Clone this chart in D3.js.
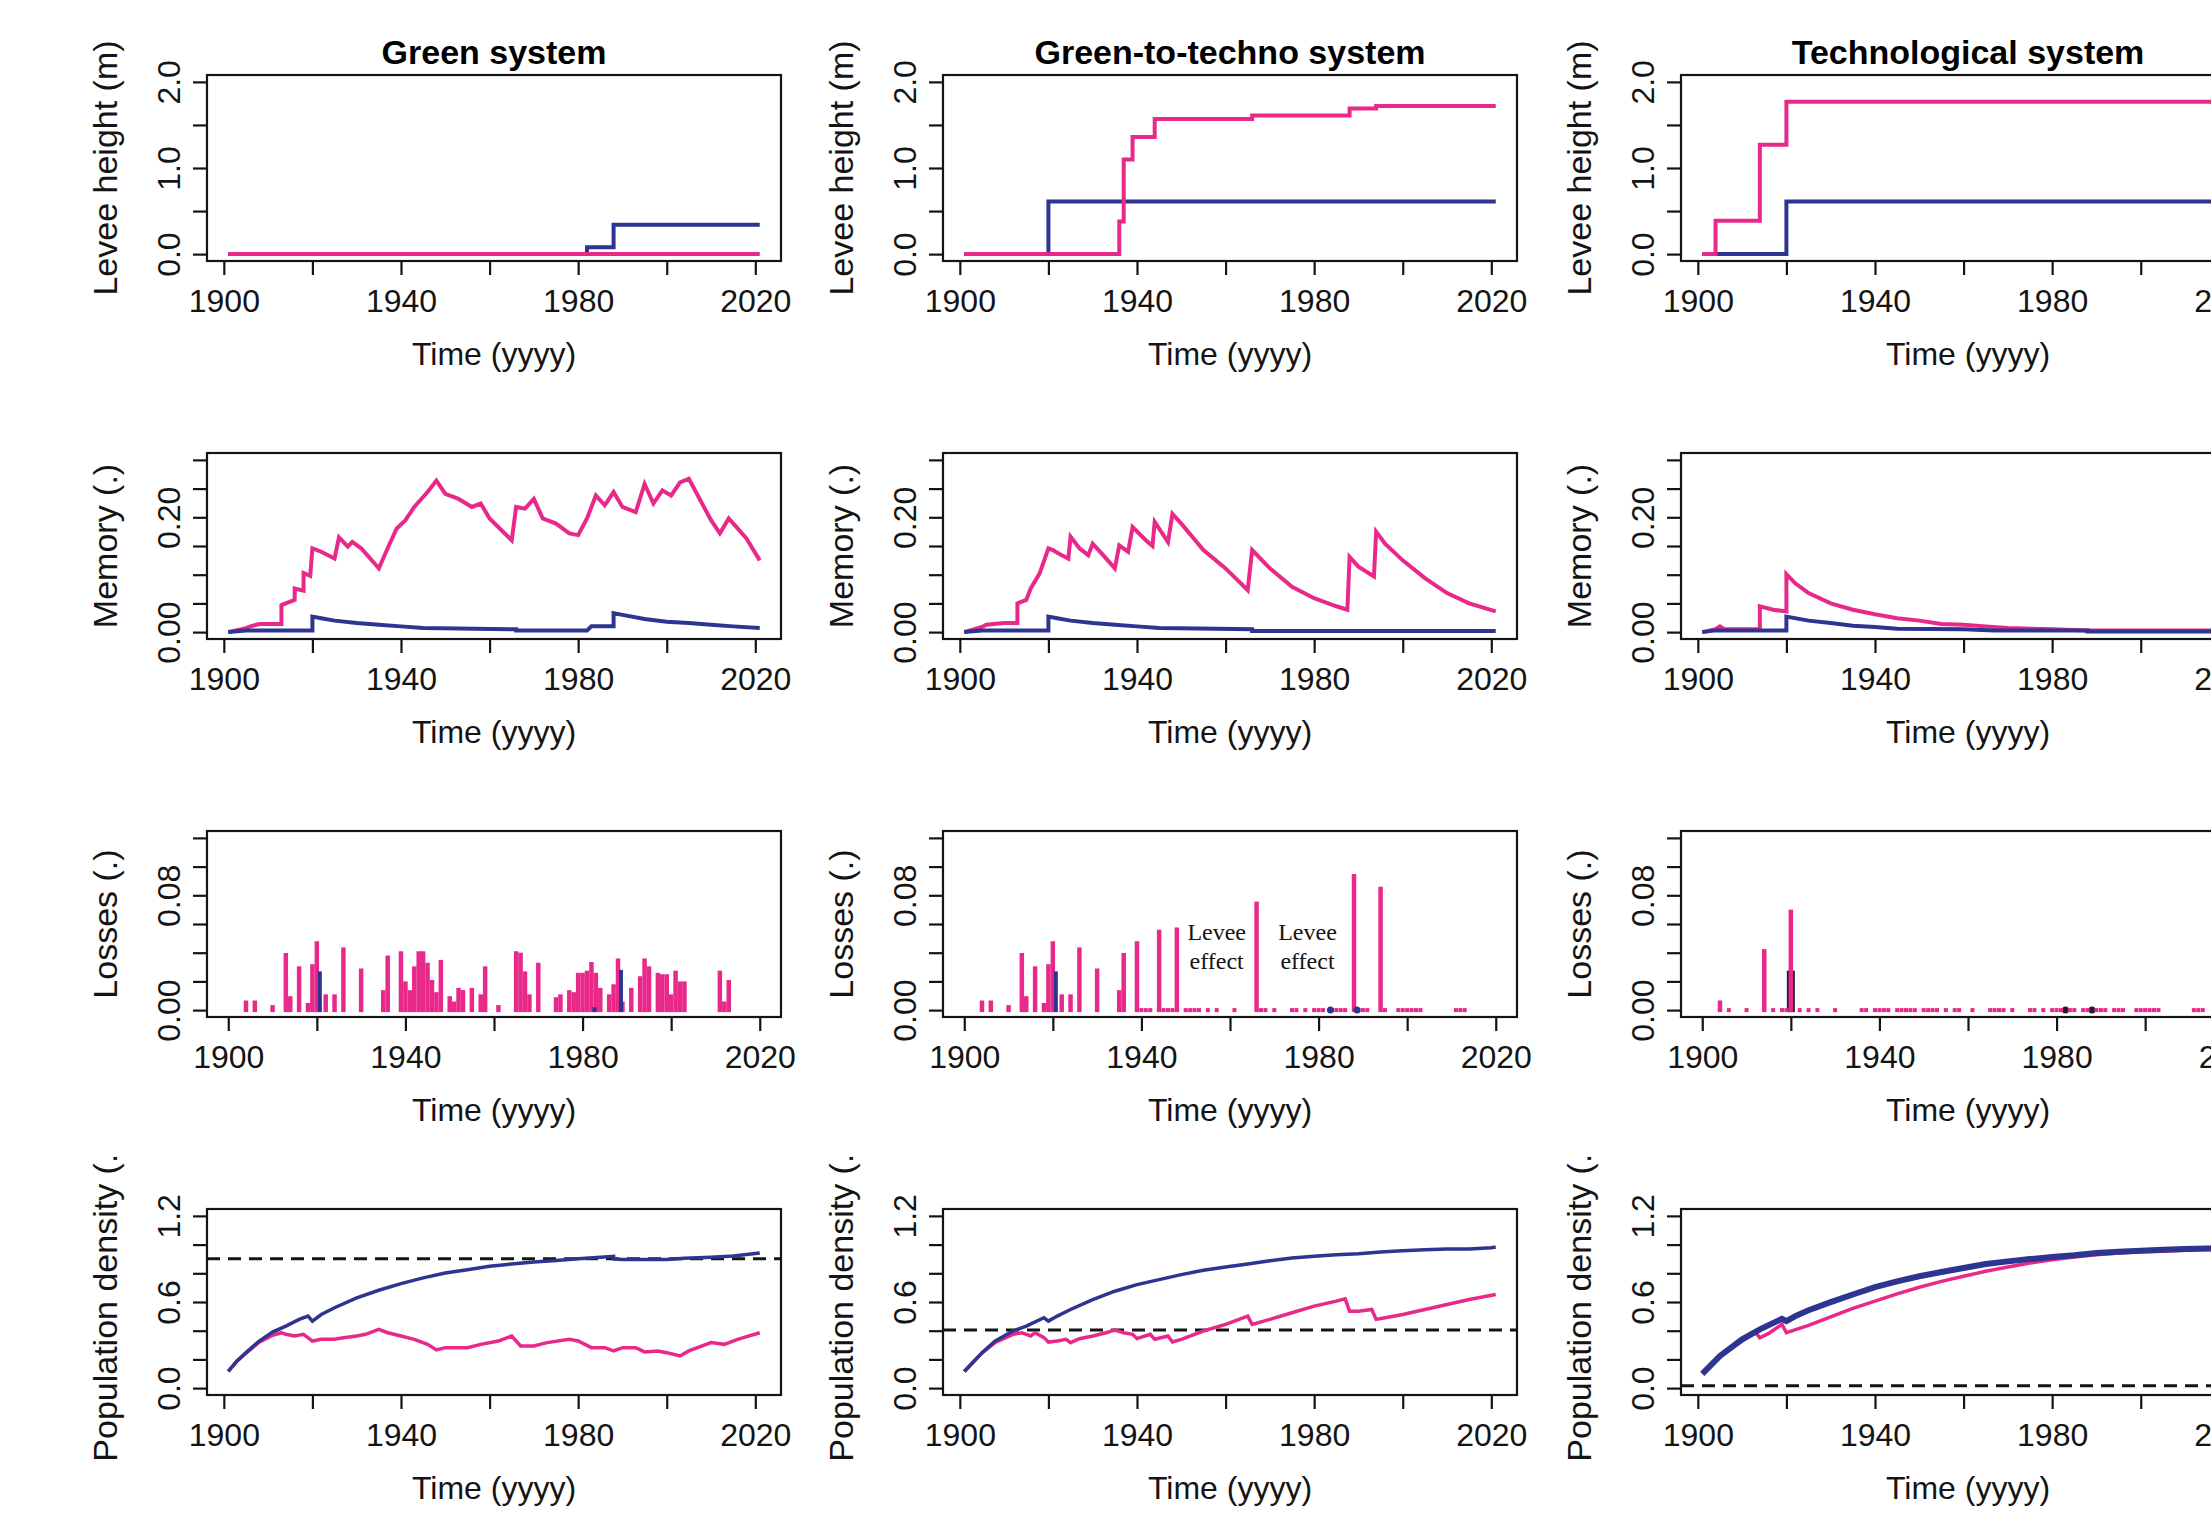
<!DOCTYPE html>
<html>
<head>
<meta charset="utf-8">
<script src="https://cdn.jsdelivr.net/npm/d3@7"></script>
<style>
  body { margin: 0; background: #fff; overflow: hidden; }
</style>
</head>
<body>
<div id="chart"></div>
<script>
// Levee / memory / losses / population panels for three flood-management systems

const systems = ["Green system", "Green-to-techno system", "Technological system"];

const xTickVals = [1900, 1920, 1940, 1960, 1980, 2000, 2020];
const xTickLabels = [1900, 1940, 1980, 2020];

// levee height (m), step changes [year, value]
const leveeBlue = [
  [[1901, 0], [1982, 0.08], [1988, 0.34], [2021, 0.34]],
  [[1901, 0], [1920, 0.61], [2021, 0.61]],
  [[1901, 0], [1920, 0.61], [2021, 0.61]]
];
const leveePink = [
  [[1901, 0], [2021, 0]],
  [[1901, 0], [1936, 0.38], [1937, 1.10], [1939, 1.36], [1944, 1.57], [1966, 1.61], [1988, 1.69], [1994, 1.72], [2021, 1.72]],
  [[1901, 0], [1904, 0.386], [1914, 1.27], [1920, 1.77], [2021, 1.77]]
];

// memory (.)
const memoryBlue = [
  [[1901, 0], [1905, 0.003], [1920, 0.003], [1920, 0.027], [1922, 0.024], [1925, 0.020], [1930, 0.016], [1935, 0.013],
   [1940, 0.010], [1945, 0.007], [1966, 0.005], [1966, 0.003], [1982, 0.003], [1983, 0.010], [1988, 0.010], [1988, 0.033],
   [1990, 0.030], [1995, 0.023], [2000, 0.018], [2005, 0.016], [2010, 0.013], [2015, 0.010], [2021, 0.007]],
  [[1901, 0], [1905, 0.003], [1920, 0.003], [1920, 0.027], [1922, 0.024], [1925, 0.020], [1930, 0.016], [1935, 0.013],
   [1940, 0.010], [1945, 0.007], [1966, 0.005], [1966, 0.002], [2021, 0.002]],
  [[1901, 0], [1904, 0.003], [1920, 0.003], [1920, 0.027], [1925, 0.020], [1930, 0.016], [1935, 0.011], [1940, 0.009],
   [1945, 0.006], [1960, 0.005], [1967, 0.003], [1988, 0.003], [1988, 0.001], [2021, 0.001]]
];
const memoryPink = [
  [[1901, 0], [1905, 0.007], [1906, 0.010], [1908, 0.014], [1913, 0.014], [1913, 0.047], [1916, 0.056], [1916, 0.076],
   [1918, 0.072], [1918, 0.103], [1919.5, 0.098], [1920, 0.146], [1922, 0.140], [1925, 0.128], [1926, 0.165], [1928, 0.149],
   [1929, 0.157], [1931, 0.146], [1935, 0.111], [1937, 0.146], [1939, 0.180], [1941, 0.195], [1943, 0.218], [1946, 0.244],
   [1948, 0.264], [1950, 0.241], [1953, 0.232], [1956, 0.218], [1958, 0.224], [1960, 0.198], [1965, 0.160], [1966, 0.218],
   [1968, 0.215], [1970, 0.232], [1972, 0.198], [1975, 0.189], [1978, 0.172], [1980, 0.169], [1982, 0.198], [1984, 0.238],
   [1986, 0.221], [1988, 0.244], [1990, 0.218], [1993, 0.209], [1995, 0.258], [1997, 0.224], [1999, 0.247], [2001, 0.238],
   [2003, 0.261], [2005, 0.267], [2010, 0.195], [2012, 0.172], [2014, 0.198], [2018, 0.163], [2021, 0.125]],
  [[1901, 0], [1905, 0.009], [1906, 0.013], [1910, 0.016], [1913, 0.016], [1913, 0.050], [1915, 0.056], [1916, 0.076],
   [1918, 0.102], [1920, 0.146], [1921, 0.143], [1923, 0.134], [1924.5, 0.128], [1925, 0.166], [1927, 0.146], [1929, 0.134],
   [1930, 0.154], [1932, 0.137], [1935, 0.111], [1936, 0.151], [1938, 0.140], [1939, 0.183], [1942, 0.160], [1943.5, 0.150],
   [1944, 0.192], [1947, 0.157], [1948, 0.206], [1950, 0.189], [1955, 0.143], [1960, 0.111], [1965, 0.073], [1966, 0.143],
   [1970, 0.111], [1975, 0.079], [1980, 0.059], [1985, 0.045], [1987.5, 0.039], [1988, 0.131], [1990, 0.114], [1993.5, 0.097],
   [1994, 0.175], [1996, 0.154], [2000, 0.125], [2005, 0.094], [2010, 0.068], [2015, 0.050], [2021, 0.036]],
  [[1901, 0], [1904, 0.005], [1905, 0.010], [1906, 0.005], [1914, 0.005], [1914, 0.045], [1917, 0.039], [1920, 0.036],
   [1920, 0.101], [1922, 0.085], [1925, 0.068], [1930, 0.050], [1935, 0.039], [1940, 0.031], [1945, 0.024], [1950, 0.020],
   [1955, 0.014], [1960, 0.013], [1965, 0.010], [1970, 0.007], [1980, 0.005], [1988, 0.003], [2021, 0.003]]
];

// losses (.) as [year, value]; a zero value is an event with no loss
const lossPink = [
  [[1904, 0.0067], [1906, 0.0067], [1910, 0.0035], [1913, 0.0398], [1914, 0.0097], [1916, 0.0305], [1918, 0.005],
   [1919, 0.032], [1920, 0.048], [1922, 0.011], [1924, 0.011], [1926, 0.0437], [1930, 0.029], [1935, 0.0139],
   [1936, 0.038], [1939, 0.041], [1940, 0.020], [1941, 0.0139], [1942, 0.0305], [1943, 0.041], [1944, 0.041],
   [1945, 0.033], [1946, 0.021], [1947, 0.0125], [1948, 0.035], [1950, 0.0097], [1951, 0.006], [1952, 0.0155],
   [1953, 0.014], [1955, 0.0155], [1957, 0.011], [1958, 0.0305], [1961, 0.0035], [1965, 0.041], [1966, 0.040],
   [1967, 0.027], [1968, 0.011], [1970, 0.033], [1974, 0.009], [1975, 0.011], [1977, 0.0139], [1978, 0.0125],
   [1979, 0.026], [1980, 0.026], [1981, 0.0275], [1982, 0.0335], [1983, 0.026], [1984, 0.0155], [1986, 0.011],
   [1987, 0.018], [1988, 0.036], [1989, 0.006], [1991, 0.0155], [1993, 0.0236], [1994, 0.036], [1995, 0.0305],
   [1997, 0.026], [1998, 0.025], [1999, 0.025], [2000, 0.011], [2001, 0.0275], [2002, 0.020], [2003, 0.020],
   [2011, 0.0275], [2012, 0.006], [2013, 0.021]],
  [[1904, 0.0067], [1906, 0.0067], [1910, 0.0035], [1913, 0.0398], [1914, 0.0097], [1916, 0.0305], [1918, 0.005],
   [1919, 0.032], [1920, 0.048], [1922, 0.011], [1924, 0.011], [1926, 0.0437], [1930, 0.029], [1935, 0.0139],
   [1936, 0.0398], [1939, 0.048], [1940, 0], [1941, 0], [1942, 0], [1944, 0.056], [1945, 0], [1946, 0], [1947, 0],
   [1948, 0.0576], [1950, 0], [1951, 0], [1952, 0], [1953, 0], [1955, 0], [1957, 0], [1961, 0], [1966, 0.0756],
   [1967, 0], [1968, 0], [1970, 0], [1974, 0], [1975, 0], [1977, 0], [1979, 0], [1980, 0], [1981, 0], [1983, 0],
   [1984, 0], [1985, 0], [1986, 0], [1988, 0.0948], [1989, 0], [1990, 0], [1991, 0], [1994, 0.086], [1995, 0],
   [1998, 0], [1999, 0], [2000, 0], [2001, 0], [2002, 0], [2003, 0], [2011, 0], [2012, 0], [2013, 0]],
  [[1904, 0.0067], [1906, 0], [1910, 0], [1914, 0.0425], [1916, 0], [1918, 0], [1919, 0], [1920, 0.070], [1922, 0],
   [1924, 0], [1926, 0], [1930, 0], [1936, 0], [1937, 0], [1939, 0], [1940, 0], [1941, 0], [1942, 0], [1944, 0],
   [1945, 0], [1946, 0], [1947, 0], [1948, 0], [1950, 0], [1951, 0], [1952, 0], [1953, 0], [1955, 0], [1957, 0],
   [1958, 0], [1961, 0], [1965, 0], [1966, 0], [1967, 0], [1968, 0], [1970, 0], [1974, 0], [1975, 0], [1977, 0],
   [1979, 0], [1980, 0], [1981, 0], [1983, 0], [1984, 0], [1986, 0], [1987, 0], [1989, 0], [1990, 0], [1991, 0],
   [1993, 0], [1994, 0], [1995, 0], [1998, 0], [1999, 0], [2000, 0], [2001, 0], [2002, 0], [2003, 0], [2011, 0],
   [2012, 0], [2013, 0]]
];
const lossBlue = [
  [[1920, 0.027], [1982, 0.002], [1988, 0.028]],
  [[1920, 0.027], [1982, 0], [1988, 0]],
  [[1920, 0.0275], [1982, 0], [1988, 0]]
];

// population density (.)
const popBlue = [
  [[1901, 0.116], [1903, 0.19], [1905, 0.247], [1908, 0.328], [1911, 0.39], [1914, 0.432], [1917, 0.479], [1919, 0.502],
   [1920, 0.467], [1922, 0.513], [1925, 0.56], [1930, 0.629], [1935, 0.682], [1940, 0.728], [1945, 0.768], [1950, 0.802],
   [1955, 0.825], [1960, 0.849], [1965, 0.865], [1970, 0.879], [1975, 0.89], [1980, 0.902], [1985, 0.911], [1988, 0.918],
   [1988, 0.9], [1990, 0.897], [1995, 0.897], [2000, 0.897], [2004, 0.904], [2010, 0.911], [2015, 0.92], [2021, 0.941]],
  [[1901, 0.116], [1905, 0.247], [1908, 0.328], [1912, 0.398], [1915, 0.432], [1919, 0.49], [1920, 0.467], [1922, 0.502],
   [1925, 0.548], [1930, 0.617], [1935, 0.675], [1940, 0.721], [1945, 0.756], [1950, 0.791], [1955, 0.821], [1960, 0.844],
   [1965, 0.865], [1970, 0.888], [1975, 0.906], [1980, 0.918], [1985, 0.929], [1990, 0.936], [1995, 0.948], [2000, 0.957],
   [2005, 0.964], [2010, 0.969], [2015, 0.969], [2020, 0.978], [2021, 0.983]],
  [[1901, 0.10], [1905, 0.224], [1910, 0.34], [1914, 0.409], [1919, 0.483], [1920, 0.467], [1922, 0.502], [1925, 0.543],
   [1930, 0.599], [1935, 0.652], [1940, 0.703], [1945, 0.744], [1950, 0.779], [1955, 0.809], [1960, 0.837], [1965, 0.865],
   [1970, 0.883], [1975, 0.899], [1980, 0.913], [1985, 0.925], [1990, 0.941], [1995, 0.95], [2000, 0.957], [2005, 0.964],
   [2010, 0.969], [2015, 0.972], [2021, 0.976]]
];
const popPink = [
  [[1901, 0.116], [1903, 0.19], [1905, 0.243], [1908, 0.32], [1911, 0.368], [1913, 0.386], [1914, 0.375], [1916, 0.363],
   [1918, 0.375], [1920, 0.328], [1922, 0.34], [1925, 0.34], [1927, 0.351], [1930, 0.363], [1932, 0.375], [1935, 0.409],
   [1937, 0.386], [1940, 0.363], [1943, 0.34], [1946, 0.305], [1948, 0.266], [1950, 0.282], [1955, 0.282], [1958, 0.305],
   [1962, 0.328], [1965, 0.363], [1967, 0.294], [1970, 0.294], [1973, 0.317], [1978, 0.34], [1980, 0.328], [1983, 0.282],
   [1986, 0.282], [1988, 0.259], [1990, 0.282], [1993, 0.282], [1995, 0.252], [1998, 0.259], [2000, 0.247], [2003, 0.224],
   [2005, 0.259], [2008, 0.294], [2010, 0.317], [2013, 0.305], [2016, 0.34], [2021, 0.386]],
  [[1901, 0.116], [1905, 0.243], [1908, 0.318], [1912, 0.375], [1914, 0.386], [1916, 0.363], [1917, 0.386], [1919, 0.352],
   [1920, 0.321], [1922, 0.328], [1924, 0.34], [1925, 0.317], [1927, 0.344], [1930, 0.363], [1933, 0.386], [1935, 0.405],
   [1937, 0.386], [1939, 0.375], [1940, 0.345], [1943, 0.375], [1944, 0.34], [1947, 0.363], [1948, 0.321], [1950, 0.34],
   [1955, 0.398], [1960, 0.444], [1965, 0.502], [1966, 0.444], [1970, 0.479], [1975, 0.525], [1980, 0.571], [1985, 0.606],
   [1987, 0.622], [1988, 0.536], [1990, 0.536], [1993, 0.548], [1994, 0.479], [1996, 0.49], [2000, 0.513], [2005, 0.548],
   [2010, 0.583], [2015, 0.617], [2021, 0.652]],
  [[1901, 0.10], [1905, 0.22], [1910, 0.33], [1913, 0.39], [1914, 0.351], [1916, 0.381], [1919, 0.444], [1920, 0.386],
   [1925, 0.437], [1930, 0.497], [1935, 0.555], [1940, 0.606], [1945, 0.657], [1950, 0.703], [1955, 0.744], [1960, 0.779],
   [1965, 0.814], [1970, 0.844], [1975, 0.872], [1980, 0.895], [1985, 0.913], [1990, 0.929], [1995, 0.941], [2000, 0.95],
   [2005, 0.953], [2010, 0.96], [2015, 0.965], [2021, 0.97]]
];
const popThreshold = [0.902, 0.405, 0.016];

const annotationYears = [1957, 1977.5];
const annotationValue = 0.0425;
const annotationLines = ["Levee", "effect"];

// ---- drawing ----
const PINK = "#E8298A";
const BLUE = "#2D3590";
const INK = "#141414";
const fontSans = '"Liberation Sans", Arial, sans-serif';
const fontSerif = '"Liberation Serif", "Times New Roman", serif';

const width = 2211, height = 1513;
const colLeft = [207, 943, 1681];
const rowTop = [75, 453, 831, 1209];
const boxW = 574, boxH = 186;

const rowSpecs = [
  { yTitle: "Levee height (m)", yDomain: [-0.08, 2.08], xDomain: [1896.2, 2025.8],
    yTicks: [0, 0.5, 1, 1.5, 2], yLabels: ["0.0", "", "1.0", "", "2.0"] },
  { yTitle: "Memory (.)", yDomain: [-0.012, 0.312], xDomain: [1896.2, 2025.8],
    yTicks: [0, 0.05, 0.1, 0.15, 0.2, 0.25, 0.3], yLabels: ["0.00", "", "", "", "0.20", "", ""] },
  { yTitle: "Losses (.)", yDomain: [-0.0048, 0.1248], xDomain: [1895.2, 2024.8],
    yTicks: [0, 0.02, 0.04, 0.06, 0.08, 0.1, 0.12], yLabels: ["0.00", "", "", "", "0.08", "", ""] },
  { yTitle: "Population density (.)", yDomain: [-0.048, 1.248], xDomain: [1896.2, 2025.8],
    yTicks: [0, 0.2, 0.4, 0.6, 0.8, 1.0, 1.2], yLabels: ["0.0", "", "", "0.6", "", "", "1.2"] }
];

const svg = d3.select("#chart")
  .append("svg")
  .attr("width", width)
  .attr("height", height)
  .attr("viewBox", [0, 0, width, height]);

svg.append("rect").attr("width", width).attr("height", height).attr("fill", "#fff");

// the long population label is cut by its figure region, as in R
svg.append("defs").append("clipPath")
  .attr("id", "row4clip")
  .attr("clipPathUnits", "userSpaceOnUse")
  .append("rect")
  .attr("x", 0).attr("y", 1157).attr("width", width).attr("height", height - 1157);

function panel(row, col) {
  const spec = rowSpecs[row];
  const left = colLeft[col];
  const top = rowTop[row];

  const x = d3.scaleLinear().domain(spec.xDomain).range([left, left + boxW]);
  const y = d3.scaleLinear().domain(spec.yDomain).range([top + boxH, top]);

  const g = svg.append("g");

  // x axis
  g.append("g")
    .attr("transform", "translate(0," + (top + boxH) + ")")
    .call(d3.axisBottom(x)
      .tickValues(xTickVals)
      .tickSize(14)
      .tickPadding(14)
      .tickFormat(function(d) { return xTickLabels.includes(d) ? String(d) : ""; }))
    .call(function(a) { a.select(".domain").remove(); })
    .call(function(a) {
      a.selectAll("line").attr("stroke", INK).attr("stroke-width", 2.2);
      a.selectAll("text")
        .attr("fill", INK)
        .attr("font-size", 32)
        .attr("font-family", fontSans);
    });

  // y axis, labels parallel to the axis
  g.append("g")
    .attr("transform", "translate(" + left + ",0)")
    .call(d3.axisLeft(y)
      .tickValues(spec.yTicks)
      .tickSize(14)
      .tickFormat(function(d, i) { return spec.yLabels[i]; }))
    .call(function(a) { a.select(".domain").remove(); })
    .call(function(a) {
      a.selectAll("line").attr("stroke", INK).attr("stroke-width", 2.2);
      a.selectAll("text")
        .attr("x", null)
        .attr("dy", null)
        .attr("text-anchor", "middle")
        .attr("transform", "translate(-27,0) rotate(-90)")
        .attr("fill", INK)
        .attr("font-size", 32)
        .attr("font-family", fontSans);
    });

  // axis titles
  g.append("text")
    .attr("x", left + boxW / 2)
    .attr("y", top + boxH + 104)
    .attr("text-anchor", "middle")
    .attr("fill", INK)
    .attr("font-size", 32)
    .attr("font-family", fontSans)
    .text("Time (yyyy)");

  const ytHolder = g.append("g");
  if (row === 3) {
    ytHolder.attr("clip-path", "url(#row4clip)");
  }
  ytHolder.append("text")
    .attr("transform", "translate(" + (left - 90) + "," + (top + boxH / 2) + ") rotate(-90)")
    .attr("text-anchor", "middle")
    .attr("fill", INK)
    .attr("font-size", 34)
    .attr("font-family", fontSans)
    .text(spec.yTitle);

  if (row === 0) {
    g.append("text")
      .attr("x", left + boxW / 2)
      .attr("y", top - 11)
      .attr("text-anchor", "middle")
      .attr("fill", "#000")
      .attr("font-size", 34)
      .attr("font-weight", 700)
      .attr("font-family", fontSans)
      .text(systems[col]);
  }

  return { g: g, x: x, y: y, left: left, top: top };
}

function drawLine(p, data, color, curve, lw) {
  const line = d3.line()
    .x(function(d) { return p.x(d[0]); })
    .y(function(d) { return p.y(d[1]); })
    .curve(curve);
  p.g.append("path")
    .datum(data)
    .attr("fill", "none")
    .attr("stroke", color)
    .attr("stroke-width", lw)
    .attr("stroke-linejoin", "miter")
    .attr("d", line);
}

function drawBars(p, data, color, lw, dx, dot) {
  const bars = p.g.append("g");
  data.forEach(function(d) {
    const xp = p.x(d[0]) + dx;
    if (d[1] > 0) {
      bars.append("line")
        .attr("x1", xp).attr("x2", xp)
        .attr("y1", p.y(0) + 2).attr("y2", p.y(d[1]))
        .attr("stroke", color)
        .attr("stroke-width", lw);
    } else {
      bars.append("rect")
        .attr("x", xp - dot / 2).attr("y", p.y(0) - dot / 2)
        .attr("width", dot).attr("height", dot)
        .attr("rx", dot > 5 ? dot / 2 : 0)
        .attr("fill", color);
    }
  });
}

function drawBox(p) {
  p.g.append("rect")
    .attr("x", p.left).attr("y", p.top)
    .attr("width", boxW).attr("height", boxH)
    .attr("fill", "none")
    .attr("stroke", INK)
    .attr("stroke-width", 2.2);
}

const lossDark = [BLUE, BLUE, "#221a33"];
const lossDarkWidth = [4, 4, 8];
const popBlueWidth = [3.5, 3.5, 6];

for (let c = 0; c < 3; c++) {
  // levee
  let p = panel(0, c);
  drawLine(p, leveeBlue[c], BLUE, d3.curveStepAfter, 4);
  drawLine(p, leveePink[c], PINK, d3.curveStepAfter, 4);
  drawBox(p);

  // memory
  p = panel(1, c);
  drawLine(p, memoryPink[c], PINK, d3.curveLinear, 4);
  drawLine(p, memoryBlue[c], BLUE, d3.curveLinear, 4);
  drawBox(p);

  // losses
  p = panel(2, c);
  if (c === 2) {
    drawBars(p, lossBlue[c], lossDark[c], lossDarkWidth[c], 0, 7);
    drawBars(p, lossPink[c], PINK, 4.5, 0, 4);
  } else {
    drawBars(p, lossPink[c], PINK, 4.5, 0, 4);
    drawBars(p, lossBlue[c], lossDark[c], lossDarkWidth[c], 3, 7);
  }
  if (c === 1) {
    annotationYears.forEach(function(yr) {
      const t = p.g.append("text")
        .attr("x", p.x(yr))
        .attr("y", p.y(annotationValue) - 9)
        .attr("text-anchor", "middle")
        .attr("fill", INK)
        .attr("font-size", 24)
        .attr("font-family", fontSerif);
      t.append("tspan").attr("x", p.x(yr)).text(annotationLines[0]);
      t.append("tspan").attr("x", p.x(yr)).attr("dy", 29).text(annotationLines[1]);
    });
  }
  drawBox(p);

  // population density
  p = panel(3, c);
  p.g.append("line")
    .attr("x1", p.left).attr("x2", p.left + boxW)
    .attr("y1", p.y(popThreshold[c])).attr("y2", p.y(popThreshold[c]))
    .attr("stroke", INK)
    .attr("stroke-width", 3)
    .attr("stroke-dasharray", "13,8");
  drawLine(p, popPink[c], PINK, d3.curveLinear, 3.5);
  drawLine(p, popBlue[c], BLUE, d3.curveLinear, popBlueWidth[c]);
  drawBox(p);
}
</script>
</body>
</html>
